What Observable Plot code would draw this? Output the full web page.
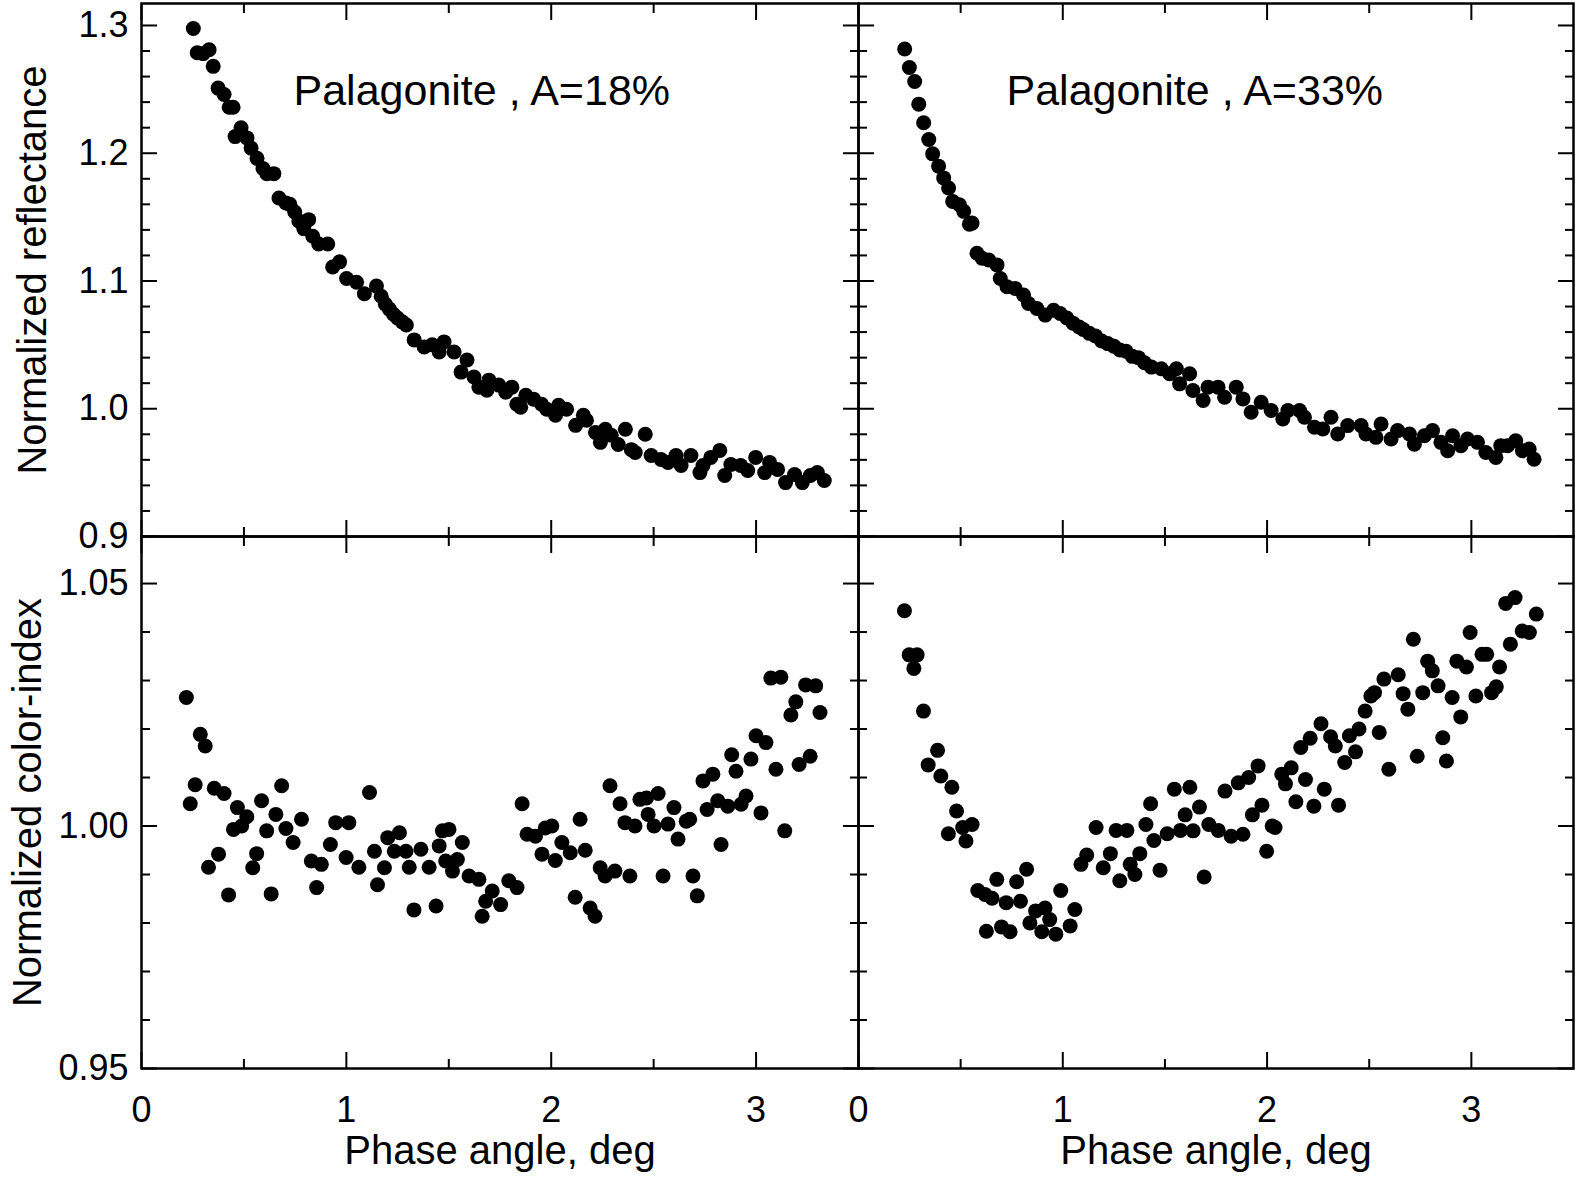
<!DOCTYPE html>
<html>
<head>
<meta charset="utf-8">
<script src="https://cdn.jsdelivr.net/npm/d3@7"></script>
<script src="https://cdn.jsdelivr.net/npm/@observablehq/plot@0.6"></script>
<style>
html, body { margin: 0; padding: 0; background: #fff; }
#fig { position: relative; width: 1581px; height: 1179px; overflow: hidden; background: #fff; }
#fig svg { position: absolute; overflow: visible; background: transparent; }
</style>
</head>
<body>
<div id="fig"></div>
<script>
// ---------- DATA ----------
// Normalized reflectance, Palagonite A=18%
const reflPhase18 = [0.253,0.272,0.301,0.330,0.350,0.374,0.403,0.428,0.447,0.457,0.486,0.515,0.535,0.564,0.593,0.612,0.646,0.671,0.705,0.724,0.748,0.768,0.792,0.816,0.836,0.865,0.909,0.933,0.967,1.001,1.050,1.088,1.147,1.170,1.190,1.210,1.230,1.250,1.273,1.293,1.331,1.380,1.419,1.453,1.477,1.526,1.560,1.589,1.623,1.647,1.686,1.696,1.744,1.778,1.808,1.832,1.851,1.876,1.914,1.953,1.978,2.021,2.036,2.075,2.119,2.157,2.172,2.216,2.240,2.264,2.293,2.327,2.362,2.391,2.410,2.459,2.488,2.536,2.570,2.609,2.634,2.682,2.726,2.741,2.779,2.823,2.847,2.877,2.925,2.959,2.998,3.042,3.066,3.105,3.144,3.188,3.226,3.265,3.299,3.333];
const reflValue18 = [1.2976,1.2787,1.2780,1.2810,1.2680,1.2510,1.2460,1.2360,1.2360,1.2130,1.2200,1.2120,1.2040,1.1960,1.1880,1.1840,1.1840,1.1650,1.1610,1.1600,1.1540,1.1470,1.1410,1.1480,1.1350,1.1290,1.1290,1.1110,1.1150,1.1020,1.0990,1.0900,1.0960,1.0880,1.0820,1.0780,1.0740,1.0710,1.0680,1.0656,1.0539,1.0483,1.0500,1.0444,1.0523,1.0444,1.0287,1.0381,1.0248,1.0169,1.0145,1.0224,1.0185,1.0130,1.0169,1.0035,1.0012,1.0106,1.0075,1.0035,0.9996,0.9949,1.0027,0.9996,0.9870,0.9949,0.9910,0.9815,0.9737,0.9839,0.9792,0.9720,0.9839,0.9680,0.9658,0.9800,0.9634,0.9603,0.9580,0.9634,0.9556,0.9634,0.9500,0.9556,0.9619,0.9674,0.9477,0.9564,0.9556,0.9517,0.9619,0.9500,0.9580,0.9525,0.9422,0.9485,0.9422,0.9477,0.9500,0.9438];

// Normalized reflectance, Palagonite A=33%
const reflPhase33 = [0.226,0.249,0.275,0.295,0.319,0.344,0.363,0.392,0.417,0.441,0.461,0.494,0.515,0.543,0.556,0.580,0.605,0.637,0.678,0.694,0.727,0.767,0.808,0.832,0.873,0.914,0.955,0.987,1.020,1.050,1.080,1.100,1.130,1.160,1.190,1.220,1.250,1.280,1.310,1.340,1.370,1.400,1.434,1.482,1.523,1.556,1.572,1.621,1.637,1.687,1.711,1.760,1.792,1.849,1.882,1.922,1.971,2.020,2.077,2.102,2.159,2.183,2.232,2.273,2.313,2.346,2.395,2.460,2.484,2.533,2.558,2.607,2.639,2.697,2.721,2.770,2.810,2.851,2.884,2.908,2.949,2.981,3.030,3.071,3.120,3.144,3.177,3.217,3.250,3.283,3.307];
const reflValue33 = [1.2816,1.2671,1.2561,1.2384,1.2239,1.2108,1.1995,1.1899,1.1807,1.1728,1.1623,1.1597,1.1545,1.1445,1.1453,1.1217,1.1178,1.1165,1.1126,1.1020,1.0955,1.0942,1.0890,1.0824,1.0785,1.0733,1.0770,1.0745,1.0710,1.0670,1.0640,1.0620,1.0590,1.0570,1.0530,1.0510,1.0490,1.0460,1.0450,1.0410,1.0400,1.0360,1.0326,1.0313,1.0274,1.0313,1.0195,1.0274,1.0143,1.0064,1.0169,1.0169,1.0090,1.0169,1.0077,0.9973,1.0051,0.9986,0.9920,0.9986,0.9986,0.9933,0.9855,0.9841,0.9933,0.9802,0.9868,0.9868,0.9802,0.9776,0.9881,0.9763,0.9829,0.9802,0.9723,0.9789,0.9829,0.9737,0.9671,0.9789,0.9711,0.9763,0.9737,0.9658,0.9619,0.9711,0.9711,0.9750,0.9671,0.9684,0.9605];

// Normalized color-index, Palagonite A=18%
const colorPhase18 = [0.219,0.238,0.262,0.287,0.311,0.327,0.355,0.376,0.403,0.425,0.449,0.468,0.489,0.514,0.543,0.562,0.586,0.611,0.633,0.656,0.684,0.705,0.740,0.781,0.829,0.855,0.878,0.922,0.948,0.999,1.012,1.061,1.113,1.137,1.152,1.186,1.202,1.234,1.259,1.291,1.307,1.330,1.364,1.404,1.438,1.453,1.469,1.485,1.501,1.518,1.542,1.566,1.599,1.647,1.663,1.680,1.712,1.753,1.793,1.833,1.858,1.882,1.923,1.955,1.971,2.003,2.020,2.052,2.093,2.117,2.141,2.166,2.190,2.214,2.239,2.263,2.287,2.311,2.336,2.360,2.384,2.409,2.433,2.465,2.473,2.502,2.522,2.546,2.570,2.599,2.619,2.659,2.676,2.692,2.713,2.741,2.761,2.789,2.813,2.829,2.862,2.881,2.902,2.927,2.951,2.975,3.000,3.024,3.048,3.072,3.097,3.121,3.140,3.170,3.194,3.210,3.242,3.264,3.291,3.312];
const colorValue18 = [1.0265,1.0046,1.0085,1.0189,1.0165,0.9915,1.0078,0.9942,1.0067,0.9858,0.9993,1.0038,1.0000,1.0019,0.9914,0.9943,1.0052,0.9990,0.9860,1.0024,1.0083,0.9995,0.9966,1.0014,0.9928,0.9873,0.9921,0.9962,1.0007,0.9935,1.0007,0.9915,1.0069,0.9948,0.9879,0.9914,0.9976,0.9948,0.9986,0.9948,0.9915,0.9827,0.9952,0.9915,0.9835,0.9959,0.9990,0.9928,0.9993,0.9907,0.9931,0.9966,0.9897,0.9890,0.9814,0.9845,0.9866,0.9838,0.9887,0.9873,1.0046,0.9983,0.9979,0.9942,0.9996,1.0000,0.9929,0.9966,0.9945,0.9853,1.0014,0.9950,0.9831,0.9814,0.9914,0.9897,1.0083,0.9907,1.0046,1.0007,0.9897,1.0000,1.0055,1.0058,1.0024,1.0000,1.0067,0.9897,1.0004,1.0038,0.9973,1.0010,1.0014,0.9897,0.9856,1.0093,1.0034,1.0107,1.0052,0.9962,1.0041,1.0147,1.0113,1.0045,1.0062,1.0138,1.0186,1.0027,1.0172,1.0305,1.0117,1.0307,0.9990,1.0229,1.0256,1.0127,1.0291,1.0144,1.0289,1.0234];

// Normalized color-index, Palagonite A=33%
const colorPhase33 = [0.225,0.248,0.271,0.287,0.318,0.341,0.387,0.403,0.440,0.457,0.480,0.510,0.526,0.556,0.584,0.619,0.626,0.654,0.677,0.700,0.723,0.742,0.774,0.793,0.823,0.839,0.867,0.897,0.913,0.936,0.966,0.990,1.036,1.059,1.089,1.117,1.163,1.198,1.233,1.261,1.279,1.314,1.330,1.353,1.377,1.407,1.430,1.446,1.476,1.511,1.546,1.576,1.599,1.622,1.638,1.669,1.692,1.715,1.761,1.794,1.824,1.859,1.882,1.910,1.928,1.956,1.975,1.998,2.025,2.039,2.072,2.090,2.118,2.141,2.165,2.188,2.211,2.229,2.264,2.280,2.311,2.334,2.350,2.380,2.403,2.433,2.450,2.480,2.508,2.526,2.549,2.572,2.596,2.642,2.666,2.689,2.716,2.735,2.762,2.786,2.809,2.837,2.860,2.878,2.906,2.929,2.948,2.976,2.994,3.022,3.052,3.075,3.099,3.122,3.138,3.168,3.191,3.214,3.249,3.284,3.318];
const colorValue33 = [1.0444,1.0353,1.0325,1.0353,1.0237,1.0126,1.0156,1.0103,0.9984,1.0080,1.0031,0.9997,0.9969,1.0003,0.9867,0.9859,0.9783,0.9851,0.9890,0.9792,0.9842,0.9782,0.9885,0.9845,0.9911,0.9800,0.9825,0.9782,0.9831,0.9807,0.9777,0.9867,0.9794,0.9828,0.9921,0.9940,0.9997,0.9914,0.9943,0.9991,0.9887,0.9991,0.9921,0.9900,0.9943,1.0003,1.0046,0.9970,0.9909,0.9984,1.0076,0.9991,1.0023,1.0080,0.9990,1.0039,0.9895,1.0003,0.9991,1.0072,0.9979,1.0089,0.9983,1.0100,1.0023,1.0124,1.0043,0.9948,1.0000,0.9997,1.0107,1.0087,1.0120,1.0050,1.0162,1.0096,1.0181,1.0041,1.0211,1.0076,1.0184,1.0165,1.0043,1.0131,1.0186,1.0153,1.0200,1.0237,1.0268,1.0275,1.0193,1.0303,1.0117,1.0312,1.0273,1.0241,1.0385,1.0144,1.0275,1.0340,1.0320,1.0289,1.0182,1.0134,1.0265,1.0340,1.0225,1.0328,1.0399,1.0268,1.0354,1.0354,1.0275,1.0287,1.0328,1.0459,1.0375,1.0471,1.0402,1.0399,1.0437];

// Tick values and labels
const phaseMajor = [0, 1, 2, 3];
const phaseMinor = [0.5, 1.5, 2.5];
const reflMajor = [0.9, 1.0, 1.1, 1.2, 1.3];
const reflMinor = [0.92, 0.94, 0.96, 0.98, 1.02, 1.04, 1.06, 1.08, 1.12, 1.14, 1.16, 1.18, 1.22, 1.24, 1.26, 1.28];
const colorMajor = [0.95, 1.00, 1.05];
const colorMinor = [0.96, 0.97, 0.98, 0.99, 1.01, 1.02, 1.03, 1.04];
const panelTitles = ["Palagonite , A=18%", "Palagonite , A=33%"];
const yTitles = ["Normalized reflectance", "Normalized color-index"];
const xTitle = "Phase angle, deg";

// ---------- DRAWING ----------
const FONT = "'Liberation Sans', Arial, Helvetica, sans-serif";
const rows = (xs, ys) => xs.map((x, i) => ({phase: x, value: ys[i]}));

function tickMarks(yMajor, yMinor) {
  const M = 16, m = 9, sw = 2;
  return [
    Plot.axisY(yMajor, {anchor: "left", tickSize: M, dx: M, fill: null, label: null, strokeWidth: sw}),
    Plot.axisY(yMinor, {anchor: "left", tickSize: m, dx: m, fill: null, label: null, strokeWidth: sw}),
    Plot.axisY(yMajor, {anchor: "right", tickSize: M, dx: -M, fill: null, label: null, strokeWidth: sw}),
    Plot.axisY(yMinor, {anchor: "right", tickSize: m, dx: -m, fill: null, label: null, strokeWidth: sw}),
    Plot.axisX(phaseMajor, {anchor: "bottom", tickSize: M, dy: -M, fill: null, label: null, strokeWidth: sw}),
    Plot.axisX(phaseMinor, {anchor: "bottom", tickSize: m, dy: -m, fill: null, label: null, strokeWidth: sw}),
    Plot.axisX(phaseMajor, {anchor: "top", tickSize: M, dy: M, fill: null, label: null, strokeWidth: sw}),
    Plot.axisX(phaseMinor, {anchor: "top", tickSize: m, dy: m, fill: null, label: null, strokeWidth: sw})
  ];
}

function panel(opts) {
  const marks = [];
  marks.push(...tickMarks(opts.yMajor, opts.yMinor));
  if (opts.yLabels) {
    marks.push(Plot.axisY(opts.yMajor, {anchor: "left", tickSize: 0, tickPadding: 13, tickFormat: d3.format(opts.yFormat), fontSize: 36, label: null, fill: "black"}));
    marks.push(Plot.text([opts.yTitle], {text: d => d, frameAnchor: "left", textAnchor: "middle", lineAnchor: "middle", rotate: -90, dx: opts.yTitleDx, fontSize: 40, fill: "black"}));
  }
  if (opts.xLabels) {
    marks.push(Plot.axisX(phaseMajor, {anchor: "bottom", tickSize: 0, tickPadding: 28, tickFormat: d3.format("d"), fontSize: 36, label: null, fill: "black"}));
    marks.push(Plot.text([xTitle], {text: d => d, frameAnchor: "bottom", textAnchor: "middle", lineAnchor: "middle", dy: 83, fontSize: 40, fill: "black"}));
  }
  if (opts.note) {
    marks.push(Plot.text([opts.note], {text: d => d, frameAnchor: "top-left", textAnchor: "start", lineAnchor: "middle", dx: opts.noteDx, dy: 88, fontSize: 43, fill: "black"}));
  }
  marks.push(Plot.dot(opts.data, {x: "phase", y: "value", r: 7.5, fill: "black", stroke: "none"}));
  marks.push(Plot.frame({stroke: "black", strokeWidth: 2.5}));
  const svg = Plot.plot({
    width: opts.width, height: opts.height,
    marginLeft: opts.ml, marginRight: opts.mr, marginTop: opts.mt, marginBottom: opts.mb,
    x: {domain: [0, 3.5]},
    y: {domain: opts.yDomain},
    style: {fontFamily: FONT, color: "black", background: "transparent", overflow: "visible"},
    marks
  });
  svg.style.left = opts.left + "px";
  svg.style.top = opts.top + "px";
  svg.style.maxWidth = "none";
  document.getElementById("fig").appendChild(svg);
}

const reflDomain = [0.9, 1.3172];
const colorDomain = [0.95, 1.0597];
const MID = 858;          // shared vertical border
const RIGHT = 1573;       // right border of the right panels

panel({left: 0, top: 0, width: MID, height: 536, ml: 141, mr: 0, mt: 3, mb: 0,
  yDomain: reflDomain, yMajor: reflMajor, yMinor: reflMinor, yFormat: ".1f",
  yLabels: true, yTitle: yTitles[0], yTitleDx: -108, xLabels: false,
  note: panelTitles[0], noteDx: 152, data: rows(reflPhase18, reflValue18)});

panel({left: MID, top: 0, width: 1581 - MID, height: 536, ml: 0, mr: 1581 - RIGHT, mt: 3, mb: 0,
  yDomain: reflDomain, yMajor: reflMajor, yMinor: reflMinor,
  yLabels: false, xLabels: false,
  note: panelTitles[1], noteDx: 148, data: rows(reflPhase33, reflValue33)});

panel({left: 0, top: 536, width: MID, height: 643, ml: 141, mr: 0, mt: 0, mb: 111,
  yDomain: colorDomain, yMajor: colorMajor, yMinor: colorMinor, yFormat: ".2f",
  yLabels: true, yTitle: yTitles[1], yTitleDx: -113, xLabels: true,
  data: rows(colorPhase18, colorValue18)});

panel({left: MID, top: 536, width: 1581 - MID, height: 643, ml: 0, mr: 1581 - RIGHT, mt: 0, mb: 111,
  yDomain: colorDomain, yMajor: colorMajor, yMinor: colorMinor,
  yLabels: false, xLabels: true,
  data: rows(colorPhase33, colorValue33)});
</script>
</body>
</html>
